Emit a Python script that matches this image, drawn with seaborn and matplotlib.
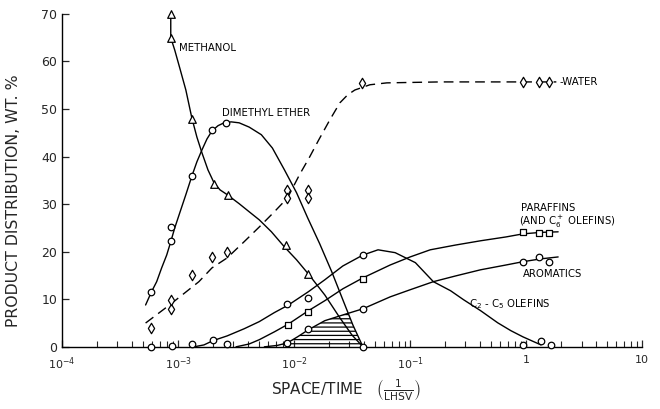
import numpy as np
import pandas as pd
import matplotlib
matplotlib.use('Agg')
import matplotlib.pyplot as plt
import seaborn as sns

# curves (space/time in 1/LHSV, product wt %)
methanol_x = [0.000865, 0.000865, 0.000936, 0.001035, 0.001167, 0.001315, 0.001453, 0.001606, 0.00181, 0.00204,
              0.0023, 0.00265, 0.00336, 0.0041, 0.00501, 0.00637, 0.00826, 0.0105, 0.0133, 0.0184, 0.0248, 0.0315, 0.0392]
methanol_y = [70, 65, 62.4, 58.6, 54.0, 48.1, 44.1, 40.8, 37.2, 34.5,
              33.0, 32.0, 30.1, 28.4, 26.7, 24.2, 21.0, 18.3, 15.3, 10.9, 6.1, 2.5, 0]
methanol_pts_x = [0.000865, 0.000865, 0.00132, 0.00205, 0.0027, 0.0085, 0.0133]
methanol_pts_y = [70, 65, 48, 34.2, 32, 21.5, 15.3]

dme_x = [0.000525, 0.000591, 0.000654, 0.000722, 0.000798, 0.000865, 0.000936, 0.001035, 0.001167, 0.001315,
         0.001453, 0.001606, 0.001774, 0.00196, 0.00221, 0.00249, 0.00287, 0.00336, 0.0041, 0.00522,
         0.0065, 0.00826, 0.0105, 0.0131, 0.0166, 0.0211, 0.0263, 0.0321, 0.0392]
dme_y = [8.8, 11.6, 13.7, 16.6, 19.3, 22.1, 25.0, 28.2, 32.0, 35.9,
         38.9, 41.4, 43.7, 45.4, 46.5, 47.1, 47.3, 47.1, 46.2, 44.6,
         41.8, 37.2, 32.4, 27.1, 21.7, 15.8, 9.9, 4.6, 0]
dme_pts_x = [0.00059, 0.000865, 0.000865, 0.00132, 0.00196, 0.0026, 0.0392]
dme_pts_y = [11.6, 22.2, 25.2, 36, 45.6, 47, 0]

water_x = [0.000525, 0.000865, 0.001512, 0.00196, 0.00265, 0.00371, 0.00501, 0.00676, 0.00877, 0.01114,
           0.0136, 0.0163, 0.0203, 0.0248, 0.029, 0.0334, 0.045, 0.063, 0.182, 1.82]
water_y = [5.0, 9.0, 13.7, 16.6, 18.7, 22.1, 25.2, 28.4, 31.3, 36.2,
           39.9, 43.5, 47.7, 51.3, 53.0, 54.0, 55.1, 55.5, 55.7, 55.7]
water_pts_x = [0.00059, 0.000865, 0.000865, 0.00132, 0.00196, 0.00265, 0.00877, 0.00877, 0.0131, 0.0131,
               0.0385, 0.938, 1.29, 1.58]
water_pts_y = [4, 8, 9.9, 15, 18.9, 20, 33, 31.3, 33, 31.3,
               55.5, 55.7, 55.7, 55.7]

olefin_x = [0.00137, 0.00167, 0.002, 0.00265, 0.00371, 0.00501, 0.00676, 0.00894, 0.0133, 0.0184,
            0.0263, 0.0392, 0.0529, 0.0743, 0.111, 0.1586, 0.223, 0.289, 0.405, 0.569, 0.738, 0.938, 1.343]
olefin_y = [0, 0.4, 1.3, 2.3, 3.8, 5.3, 7.2, 8.8, 11.6, 14.1,
            17.0, 19.3, 20.4, 19.8, 17.7, 13.7, 11.8, 9.9, 7.6, 5.05, 3.4, 2.1, 0.4]
olefin_pts_x = [0.00059, 0.00088, 0.00132, 0.002, 0.00265, 0.00877, 0.0133, 0.0392, 0.938, 1.35, 1.64]
olefin_pts_y = [0, 0.2, 0.6, 1.5, 0.6, 9, 10.3, 19.3, 0.4, 1.2, 0.4]

paraffin_x = [0.00316, 0.0041, 0.00501, 0.00676, 0.00894, 0.0133, 0.0184, 0.0263, 0.0392, 0.0672,
              0.1, 0.149, 0.246, 0.405, 0.668, 0.938, 1.343, 1.887]
paraffin_y = [0, 0.6, 1.5, 3.15, 4.8, 7.6, 9.7, 12.2, 14.5, 17.2,
              18.9, 20.4, 21.4, 22.3, 23.1, 23.75, 24.07, 24.18]
paraffin_pts_x = [0.0089, 0.0133, 0.0392, 0.938, 1.29, 1.58]
paraffin_pts_y = [4.6, 7.4, 14.3, 24.2, 24, 24]

aromatic_x = [0.00554, 0.00718, 0.00877, 0.0107, 0.0133, 0.0184, 0.0263, 0.0392, 0.0672, 0.1,
              0.1586, 0.246, 0.405, 0.668, 0.938, 1.343, 1.887]
aromatic_y = [0, 0.3, 0.84, 2.1, 3.6, 5.5, 6.7, 8.0, 10.5, 12.0,
              13.7, 14.9, 16.2, 17.2, 17.9, 18.5, 18.9]
aromatic_pts_x = [0.00877, 0.0133, 0.0392, 0.938, 1.29, 1.58]
aromatic_pts_y = [0.8, 3.8, 8, 17.9, 18.9, 17.9]

xtick_vals = [1e-4, 1e-3, 1e-2, 1e-1, 1, 10]
xtick_labels = ['$10^{-4}$', '$10^{-3}$', '$10^{-2}$', '$10^{-1}$', '1', '10']
ytick_vals = [0, 10, 20, 30, 40, 50, 60, 70]

sns.set_style('ticks')
plt.rcParams['font.family'] = ['DejaVu Sans']
plt.rcParams['hatch.linewidth'] = 0.9

fig = plt.figure(figsize=(6.6, 4.09), dpi=100)
ax = fig.add_axes([0.094, 0.152, 0.879, 0.814])
ax.set_xscale('log')

for cx, cy in [(methanol_x, methanol_y), (dme_x, dme_y), (olefin_x, olefin_y),
               (paraffin_x, paraffin_y), (aromatic_x, aromatic_y)]:
    sns.lineplot(x=cx, y=cy, ax=ax, color='black', lw=1.0, sort=False, estimator=None)

sns.lineplot(x=water_x, y=water_y, ax=ax, color='black', lw=1.0, sort=False, estimator=None)
ax.lines[-1].set_linestyle((0, (7, 4.3)))

marks = [
    (methanol_pts_x, methanol_pts_y, '^', 30),
    (dme_pts_x, dme_pts_y, 'o', 22),
    (water_pts_x, water_pts_y, 'd', 28),
    (olefin_pts_x, olefin_pts_y, 'o', 22),
    (paraffin_pts_x, paraffin_pts_y, 's', 18),
    (aromatic_pts_x, aromatic_pts_y, 'o', 22),
]
for mx, my, m, s in marks:
    sns.scatterplot(x=mx, y=my, ax=ax, marker=m, s=s, facecolor='white',
                    edgecolor='black', linewidth=0.9, zorder=3, clip_on=False)

# hatched area under aromatics / DME
grid = np.logspace(np.log10(aromatic_x[0]), np.log10(dme_x[-1]), 200)
lx = np.log10(grid)
top = np.minimum(np.interp(lx, np.log10(aromatic_x), aromatic_y),
                 np.interp(lx, np.log10(dme_x), dme_y))
ax.fill_between(grid, 0, top, facecolor='none', edgecolor='black', hatch='----', linewidth=0)

ax.set_xlim(1e-4, 10)
ax.set_ylim(0, 70)
ax.set_xticks(xtick_vals)
ax.set_xticklabels(xtick_labels, fontsize=8)
ax.set_yticks(ytick_vals)
ax.set_yticklabels([str(v) for v in ytick_vals], fontsize=9)
ax.tick_params(axis='both', which='major', direction='in', length=5, width=0.9)
ax.tick_params(axis='x', which='minor', direction='in', length=4, width=0.8)
ax.tick_params(axis='x', pad=6)
sns.despine(ax=ax)
for sp in ['left', 'bottom']:
    ax.spines[sp].set_linewidth(1.0)
    ax.spines[sp].set_color('black')

ax.set_ylabel('PRODUCT DISTRIBUTION, WT. %', fontsize=11.3)
ax.yaxis.set_label_coords(-0.071, 0.44)
ax.set_xlabel(r'SPACE/TIME   $\left(\frac{\mathrm{1}}{\mathrm{LHSV}}\right)$', fontsize=11)
ax.xaxis.set_label_coords(0.49, -0.092)
ax.xaxis.label.set_va('top')

tk = dict(fontsize=7.3, color='black', va='center')
ax.text(0.00102, 62.9, 'METHANOL', **tk)
ax.text(0.0024, 49.2, 'DIMETHYL ETHER', **tk)
ax.text(1.95, 55.7, '-WATER', **tk)
ax.text(0.9, 29.2, 'PARAFFINS', **tk)
ax.text(0.87, 26.3, '(AND C$_6^+$ OLEFINS)', **tk)
ax.text(0.93, 15.3, 'AROMATICS', **tk)
ax.text(0.32, 9.0, 'C$_2$ - C$_5$ OLEFINS', **tk)

fig.savefig('out.png', dpi=100)
